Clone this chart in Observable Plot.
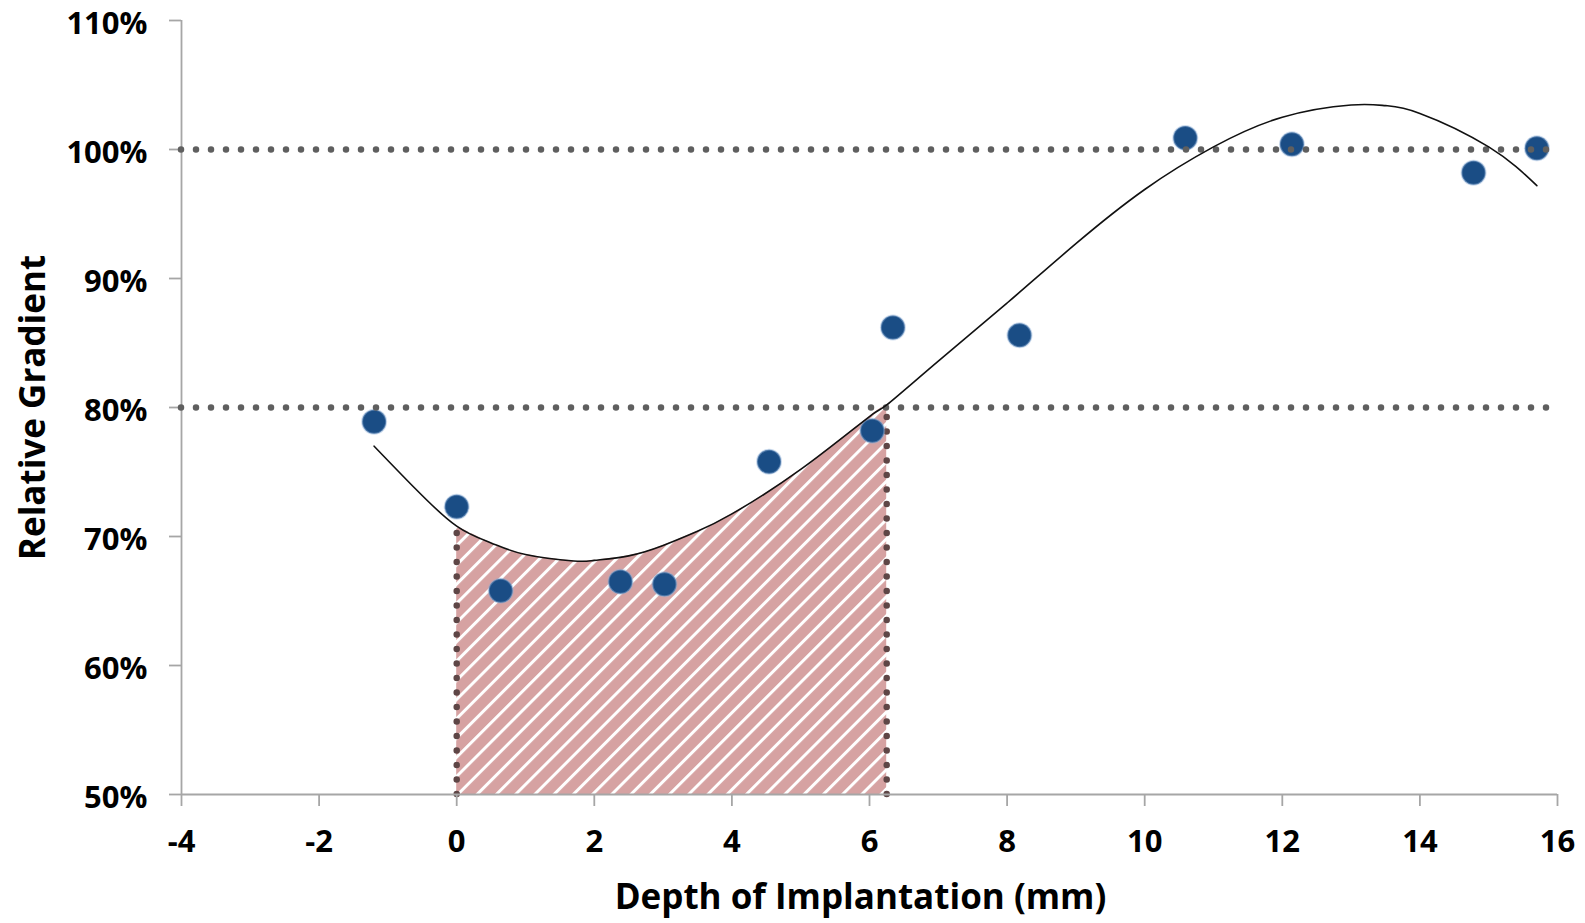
<!DOCTYPE html>
<html>
<head>
<meta charset="utf-8">
<script src="https://cdn.jsdelivr.net/npm/d3@7"></script>
<script src="https://cdn.jsdelivr.net/npm/@observablehq/plot@0.6"></script>
<style>
  html, body { margin: 0; padding: 0; background: #fff; }
</style>
</head>
<body>
<div id="chart"></div>
<script>
// measured points
const depth = [-1.2, 0.0, 0.64, 2.38, 3.02, 4.54, 6.04, 6.34, 8.18, 10.59, 12.14, 14.78, 15.7];
const gradient = [78.9, 72.3, 65.8, 66.5, 66.3, 75.8, 78.2, 86.2, 85.6, 100.9, 100.4, 98.2, 100.1];

// trend line
const trendX = [-1.2, -0.6, 0, 0.5, 1, 1.7, 2, 2.5, 3, 3.5, 4, 5, 6, 6.25, 7, 8, 9, 10, 11, 12, 13, 13.5, 14, 15, 15.7];
const trendY = [77.0, 73.7, 70.8, 69.5, 68.6, 68.1, 68.15, 68.5, 69.3, 70.4, 71.75, 75.2, 79.3, 80.2, 83.6, 88.1, 92.7, 96.9, 100.2, 102.5, 103.45, 103.4, 102.8, 100.2, 97.2];

// shaded zone limits and reference levels
const zoneStart = 0;
const zoneEnd = 6.25;
const refLevels = [80, 100];

const xTicks = [-4, -2, 0, 2, 4, 6, 8, 10, 12, 14, 16];
const yTicks = [50, 60, 70, 80, 90, 100, 110];

const xLabel = "Depth of Implantation (mm)";
const yLabel = "Relative Gradient";

const points = depth.map((d, i) => ({x: d, y: gradient[i]}));
const trend = trendX.map((d, i) => ({x: d, y: trendY[i]}));
const zone = trend.filter(d => d.x >= zoneStart && d.x <= zoneEnd);
const zoneEdges = [zone[0], zone[zone.length - 1]];

const axisGray = "#a6a6a6";
const fontSize = 31;
const font = "'Open Sans', Lato, sans-serif";

const chart = Plot.plot({
  width: 1585,
  height: 923,
  marginLeft: 181,
  marginRight: 28,
  marginTop: 20,
  marginBottom: 129,
  style: {fontFamily: font, fontWeight: "bold", fontSize: fontSize + "px", color: "black", background: "white"},
  x: {domain: [-4, 16]},
  y: {domain: [50, 110]},
  marks: [
    Plot.areaY(zone, {x: "x", y1: 50, y2: "y", curve: "natural", fill: "url(#hatch)"}),
    Plot.ruleX(zoneEdges, {x: "x", y1: 50, y2: "y", stroke: "#5e4646", strokeWidth: 6.5, strokeDasharray: "0 14.5", strokeLinecap: "round"}),
    Plot.ruleY([50], {stroke: axisGray, strokeWidth: 1.8}),
    Plot.ruleX([-4], {stroke: axisGray, strokeWidth: 1.8}),
    Plot.axisX(xTicks, {tickSize: 12, tickPadding: 23, stroke: axisGray, strokeWidth: 1.8, fill: "black", fontSize, label: null, tickFormat: d => String(d)}),
    Plot.axisY(yTicks, {tickSize: 12, stroke: axisGray, strokeWidth: 1.8, label: null, tickFormat: () => ""}),
    Plot.axisY(yTicks, {tickSize: 0, tickPadding: 34, dy: 4, fill: "black", fontSize, label: null, tickFormat: d => d + "%"}),
    Plot.dot(points, {x: "x", y: "y", r: 12, fill: "#1a4d85", stroke: "#8fb0d6", strokeOpacity: 0.45, strokeWidth: 2}),
    Plot.ruleY(refLevels, {stroke: "#5f5f5f", strokeWidth: 6.5, strokeDasharray: "0 15", strokeLinecap: "round"}),
    Plot.line(trend, {x: "x", y: "y", curve: "natural", stroke: "#111", strokeWidth: 1.6}),
    Plot.text([yLabel], {frameAnchor: "left", textAnchor: "middle", dx: -148, rotate: -90, fontSize: 35, fontWeight: "bold", fill: "black", text: d => d}),
    Plot.text([xLabel], {frameAnchor: "bottom", textAnchor: "middle", dx: -9, dy: 114, fontSize: 35, fontWeight: "bold", fill: "black", text: d => d})
  ]
});

// hatch pattern definition
const ns = "http://www.w3.org/2000/svg";
const defs = document.createElementNS(ns, "defs");
const pat = document.createElementNS(ns, "pattern");
pat.setAttribute("id", "hatch");
pat.setAttribute("patternUnits", "userSpaceOnUse");
pat.setAttribute("width", "13.6");
pat.setAttribute("height", "13.6");
pat.setAttribute("patternTransform", "rotate(45)");
const bg = document.createElementNS(ns, "rect");
bg.setAttribute("width", "13.6");
bg.setAttribute("height", "13.6");
bg.setAttribute("fill", "#d6a2a2");
const ln = document.createElementNS(ns, "rect");
ln.setAttribute("x", "0");
ln.setAttribute("width", "3");
ln.setAttribute("height", "13.6");
ln.setAttribute("fill", "#ffffff");
pat.appendChild(bg);
pat.appendChild(ln);
defs.appendChild(pat);
chart.insertBefore(defs, chart.firstChild);

document.getElementById("chart").appendChild(chart);
</script>
</body>
</html>
